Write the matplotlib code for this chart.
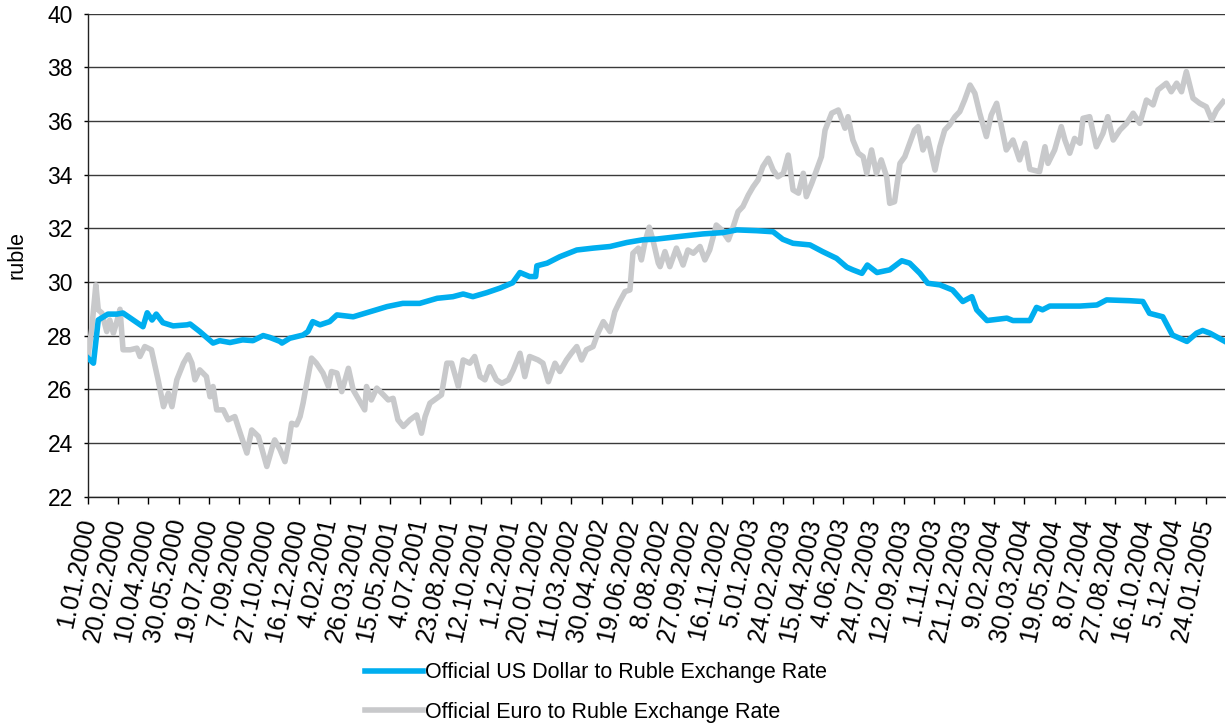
import matplotlib
matplotlib.use("Agg")
import matplotlib.pyplot as plt
from matplotlib.lines import Line2D

plt.rcParams['font.family'] = ['Liberation Sans', 'DejaVu Sans']

# Days since 1.01.2000 and official rates (ruble)
usd_day = [0, 9, 17, 33, 48, 58, 91, 98, 106, 113, 124, 141, 164, 169, 185, 207, 218, 235, 256,
           273, 290, 301, 318, 321, 334, 356, 364, 372, 384, 400, 412, 439, 467, 495, 521, 549,
           578, 604, 621, 637, 660, 682, 703, 715, 731, 741, 743, 760, 781, 809, 836, 864, 892,
           918, 942, 985, 1018, 1051, 1074, 1107, 1134, 1150, 1167, 1195, 1216, 1239, 1256, 1266,
           1281, 1290, 1306, 1327, 1347, 1360, 1377, 1390, 1410, 1431, 1448, 1463, 1471, 1488,
           1521, 1531, 1559, 1570, 1580, 1592, 1613, 1642, 1670, 1686, 1724, 1746, 1757, 1779,
           1795, 1819, 1835, 1845, 1857, 1882]
usd_rate = [27.16, 26.97, 28.58, 28.80, 28.80, 28.84, 28.33, 28.85, 28.58, 28.80, 28.48, 28.36,
            28.40, 28.43, 28.15, 27.72, 27.81, 27.74, 27.84, 27.81, 28.00, 27.93, 27.78, 27.72,
            27.90, 28.02, 28.15, 28.52, 28.40, 28.52, 28.77, 28.70, 28.89, 29.08, 29.20, 29.20,
            29.39, 29.45, 29.55, 29.45, 29.60, 29.77, 29.97, 30.35, 30.20, 30.20, 30.60, 30.70,
            30.94, 31.19, 31.26, 31.32, 31.47, 31.57, 31.60, 31.71, 31.79, 31.84, 31.94, 31.91,
            31.87, 31.59, 31.44, 31.38, 31.13, 30.88, 30.55, 30.45, 30.32, 30.63, 30.35, 30.45,
            30.79, 30.70, 30.32, 29.95, 29.89, 29.70, 29.27, 29.45, 28.96, 28.56, 28.65, 28.56,
            28.56, 29.05, 28.96, 29.10, 29.10, 29.10, 29.14, 29.33, 29.30, 29.27, 28.83, 28.70,
            28.02, 27.78, 28.09, 28.19, 28.09, 27.78]

eur_day = [0, 6, 13, 17, 23, 31, 36, 42, 47, 53, 58, 70, 81, 86, 94, 105, 116, 125, 133, 139,
           147, 158, 166, 172, 177, 185, 196, 202, 207, 213, 224, 232, 243, 252, 263, 271, 282,
           296, 307, 309, 318, 326, 331, 337, 345, 351, 356, 362, 370, 378, 389, 398, 403, 412,
           420, 431, 439, 450, 458, 461, 469, 478, 489, 497, 505, 513, 522, 533, 544, 552, 558,
           566, 577, 585, 594, 602, 613, 621, 632, 640, 649, 657, 665, 676, 685, 696, 704, 715,
           723, 731, 745, 753, 762, 773, 781, 792, 800, 809, 817, 825, 836, 844, 853, 864, 872,
           880, 889, 897, 902, 911, 916, 922, 929, 935, 944, 947, 955, 963, 974, 985, 993, 1002,
           1013, 1021, 1029, 1040, 1049, 1060, 1068, 1076, 1084, 1093, 1101, 1109, 1117, 1126,
           1134, 1142, 1151, 1159, 1167, 1176, 1184, 1189, 1198, 1206, 1214, 1220, 1231, 1242,
           1250, 1253, 1258, 1266, 1275, 1283, 1289, 1297, 1305, 1313, 1322, 1327, 1335, 1344,
           1352, 1360, 1368, 1374, 1382, 1390, 1402, 1410, 1418, 1426, 1435, 1443, 1451, 1460,
           1468, 1476, 1487, 1495, 1504, 1512, 1520, 1531, 1542, 1551, 1559, 1575, 1584, 1589,
           1600, 1611, 1617, 1625, 1633, 1642, 1647, 1658, 1669, 1680, 1688, 1697, 1708, 1719,
           1730, 1741, 1752, 1763, 1771, 1785, 1793, 1802, 1810, 1818, 1829, 1840, 1851, 1860,
           1868, 1879]
eur_rate = [27.22, 28.21, 29.89, 28.96, 28.84, 28.15, 28.58, 28.09, 28.46, 28.98, 27.47, 27.47,
            27.53, 27.22, 27.59, 27.47, 26.35, 25.35, 25.85, 25.35, 26.35, 26.97, 27.28, 26.97,
            26.35, 26.72, 26.47, 25.72, 26.10, 25.23, 25.23, 24.86, 24.98, 24.36, 23.62, 24.48,
            24.24, 23.12, 23.99, 24.11, 23.74, 23.30, 23.86, 24.73, 24.67, 24.98, 25.48, 26.22,
            27.16, 26.97, 26.60, 26.10, 26.66, 26.60, 25.91, 26.78, 25.97, 25.54, 25.23, 26.10,
            25.60, 26.04, 25.79, 25.60, 25.66, 24.86, 24.61, 24.86, 25.04, 24.36, 24.98, 25.48,
            25.66, 25.79, 26.97, 26.97, 26.10, 27.09, 26.97, 27.22, 26.47, 26.35, 26.84, 26.35,
            26.22, 26.35, 26.72, 27.34, 26.47, 27.22, 27.09, 26.97, 26.28, 26.97, 26.66, 27.09,
            27.34, 27.59, 27.09, 27.47, 27.59, 28.09, 28.52, 28.15, 28.89, 29.27, 29.64, 29.70,
            31.07, 31.26, 30.82, 31.50, 32.04, 31.57, 30.70, 30.57, 31.13, 30.57, 31.26, 30.63,
            31.19, 31.07, 31.32, 30.82, 31.19, 32.12, 31.94, 31.57, 32.06, 32.62, 32.81, 33.24,
            33.55, 33.80, 34.30, 34.61, 34.17, 33.92, 34.05, 34.73, 33.43, 33.31, 34.05, 33.18,
            33.68, 34.17, 34.67, 35.66, 36.29, 36.41, 35.91, 35.73, 36.16, 35.29, 34.80, 34.67,
            34.05, 34.92, 34.05, 34.55, 33.92, 32.93, 32.99, 34.42, 34.67, 35.17, 35.66, 35.79,
            34.92, 35.35, 34.17, 35.04, 35.66, 35.85, 36.16, 36.35, 36.78, 37.34, 37.03, 36.29,
            35.42, 36.22, 36.66, 35.79, 34.92, 35.29, 34.55, 35.17, 34.20, 34.11, 35.04, 34.42,
            34.92, 35.79, 35.29, 34.80, 35.35, 35.17, 36.10, 36.16, 35.04, 35.54, 36.16, 35.29,
            35.66, 35.91, 36.29, 35.91, 36.78, 36.60, 37.16, 37.41, 37.09, 37.41, 37.09, 37.84,
            36.85, 36.66, 36.53, 36.04, 36.41, 36.72]

tick_days = list(range(0, 1851, 50))
tick_labels = ['1.01.2000', '20.02.2000', '10.04.2000', '30.05.2000', '19.07.2000', '7.09.2000',
               '27.10.2000', '16.12.2000', '4.02.2001', '26.03.2001', '15.05.2001', '4.07.2001',
               '23.08.2001', '12.10.2001', '1.12.2001', '20.01.2002', '11.03.2002', '30.04.2002',
               '19.06.2002', '8.08.2002', '27.09.2002', '16.11.2002', '5.01.2003', '24.02.2003',
               '15.04.2003', '4.06.2003', '24.07.2003', '12.09.2003', '1.11.2003', '21.12.2003',
               '9.02.2004', '30.03.2004', '19.05.2004', '8.07.2004', '27.08.2004', '16.10.2004',
               '5.12.2004', '24.01.2005']
y_ticks = [22, 24, 26, 28, 30, 32, 34, 36, 38, 40]

usd_label = 'Official US Dollar to Ruble Exchange Rate'
eur_label = 'Official Euro to Ruble Exchange Rate'
usd_color = '#00AEEF'
eur_color = '#C8C9CB'
LW = 4.0

W, H = 1226, 724
fig = plt.figure(figsize=(W / 100, H / 100), dpi=100)
ax = fig.add_axes([88 / W, 1 - 496.5 / H, (1225 - 88) / W, (496.5 - 13.7) / H])

ax.plot(eur_day, eur_rate, color=eur_color, lw=LW, solid_joinstyle='round', zorder=3)
ax.plot(usd_day, usd_rate, color=usd_color, lw=LW, solid_joinstyle='round', zorder=4)

ax.set_xlim(0, 1882)
ax.set_ylim(22, 40)
ax.set_yticks(y_ticks)
ax.set_yticklabels([str(v) for v in y_ticks], fontsize=16.5)
ax.set_xticks(tick_days)
ax.set_xticklabels(tick_labels, fontsize=18)
plt.setp(ax.get_xticklabels(), rotation=78, ha='right', va='center', rotation_mode='anchor')

ax.grid(axis='y', color='#3a3a3a', lw=1.0, zorder=1)
ax.set_axisbelow(True)
for s in ['top', 'right']:
    ax.spines[s].set_visible(False)
for s in ['left', 'bottom']:
    ax.spines[s].set_color('#222222')
    ax.spines[s].set_linewidth(1.0)
ax.tick_params(axis='x', direction='out', length=5, width=1.0, pad=11, colors='black')
ax.tick_params(axis='y', direction='out', length=3, width=1.0, pad=8, colors='black')

ax.set_ylabel('ruble', fontsize=15.5)
ax.yaxis.set_label_coords(-(88 - 28) / (1225 - 88), 0.5)

handles = [Line2D([], [], color=usd_color, lw=LW), Line2D([], [], color=eur_color, lw=LW)]
fig.legend(handles, [usd_label, eur_label], loc='center', bbox_to_anchor=(0.486, 0.0435),
           frameon=False, fontsize=15.5, handlelength=2.7, handletextpad=0.1, labelspacing=0.85)

fig.savefig('out.png', dpi=100)
